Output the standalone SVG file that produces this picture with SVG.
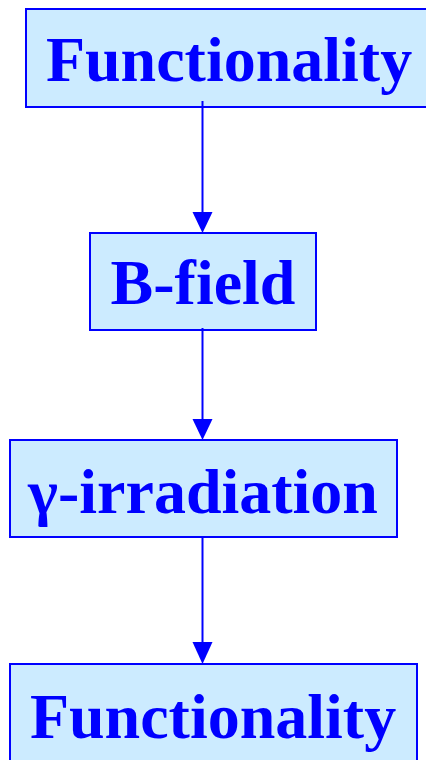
<svg xmlns="http://www.w3.org/2000/svg" width="426" height="760" viewBox="0 0 426 760">
<defs>
<style>
.box{fill:#CCEBFF;stroke:#0000FF;stroke-width:2}
.lbl{font-family:"Liberation Serif","Times New Roman",serif;font-weight:bold;font-size:64px;fill:#0000FF;text-anchor:middle}
.con{stroke:#0000FF;stroke-width:2;fill:none}
.head{fill:#0000FF}
</style>
</defs>
<rect width="426" height="760" fill="#FFFFFF"/>
<g id="n1"><rect class="box" x="26" y="9" width="410" height="98"/><text class="lbl" x="229" y="81">Functionality</text></g>
<g id="n2"><rect class="box" x="90" y="233" width="226" height="97"/><text class="lbl" x="203" y="304">B-field</text></g>
<g id="n3"><rect class="box" x="10" y="440" width="387" height="97"/><text class="lbl" x="203" y="513">γ-irradiation</text></g>
<g id="n4"><rect class="box" x="10" y="664" width="407" height="110"/><text class="lbl" x="213" y="738">Functionality</text></g>
<g id="connectors">
<line class="con" x1="202.5" y1="101" x2="202.5" y2="214"/><polygon class="head" points="192.5,212 212.5,212 202.5,233"/>
<line class="con" x1="202.5" y1="328" x2="202.5" y2="421"/><polygon class="head" points="192.5,419 212.5,419 202.5,440"/>
<line class="con" x1="202.5" y1="536" x2="202.5" y2="644"/><polygon class="head" points="192.5,642 212.5,642 202.5,664"/>
</g>
</svg>
